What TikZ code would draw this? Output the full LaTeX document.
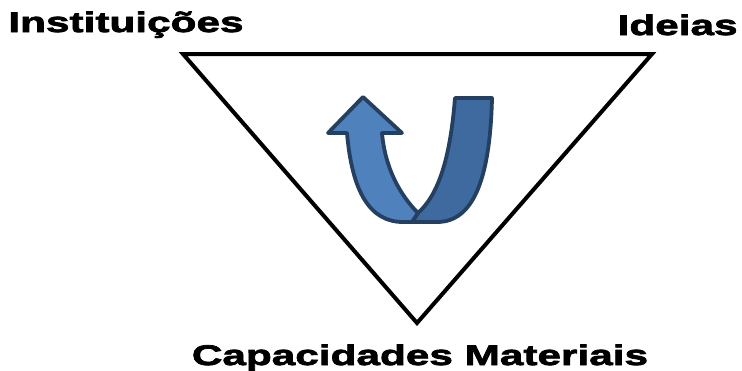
\documentclass[tikz,border=0pt]{standalone}
\usepackage{fontspec}
\newfontfamily\labelfont{Liberation Sans}[FakeStretch=1.49, BoldFeatures={FakeBold=2.6}]
\usetikzlibrary{positioning}
\definecolor{ribfront}{HTML}{4F81BD}
\definecolor{ribback}{HTML}{3F6A9F}
\definecolor{ribedge}{HTML}{243F60}

\begin{document}
\begin{tikzpicture}[x=0.5pt, y=-0.5pt,
    cornerlabel/.style={inner sep=0pt, font=\labelfont\bfseries\fontsize{14.2}{16}\selectfont},
    ribbon/.style={draw=ribedge, line width=1.9pt, line join=round}]
    \useasboundingbox (0,0) rectangle (742,370);
    % triangle corners
    \coordinate (inst) at (183,54);
    \coordinate (idea) at (652,54);
    \coordinate (capm) at (417,323);
    \draw[line width=2pt, line join=miter] (inst) -- (idea) -- (capm) -- cycle;
    \node[cornerlabel, anchor=base west] (linst) at (8,32) {Instituições};
    \node[cornerlabel, anchor=base east] (lidea) at (738,35) {Ideias};
    \node[cornerlabel, anchor=base] (lcapm) at (420,365) {Capacidades Materiais};
    % back strand of the turning arrow
    \path[ribbon, fill=ribback] (455,98) -- (492,98)
        .. controls (490,182) and (472,222) .. (437,222) -- (412,222)
        .. controls (414,219) and (416,216) .. (418,213)
        .. controls (438,195) and (450,160) .. (455,98) -- cycle;
    % front strand with the head
    \path[ribbon, fill=ribfront] (347,133)
        .. controls (352,192) and (370,222) .. (403,222) -- (412,222)
        .. controls (414,219) and (416,216) .. (418,213)
        .. controls (400,195) and (385,168) .. (382,133)
        -- (402,133) -- (363,97) -- (328,133) -- cycle;
\end{tikzpicture}
\end{document}
